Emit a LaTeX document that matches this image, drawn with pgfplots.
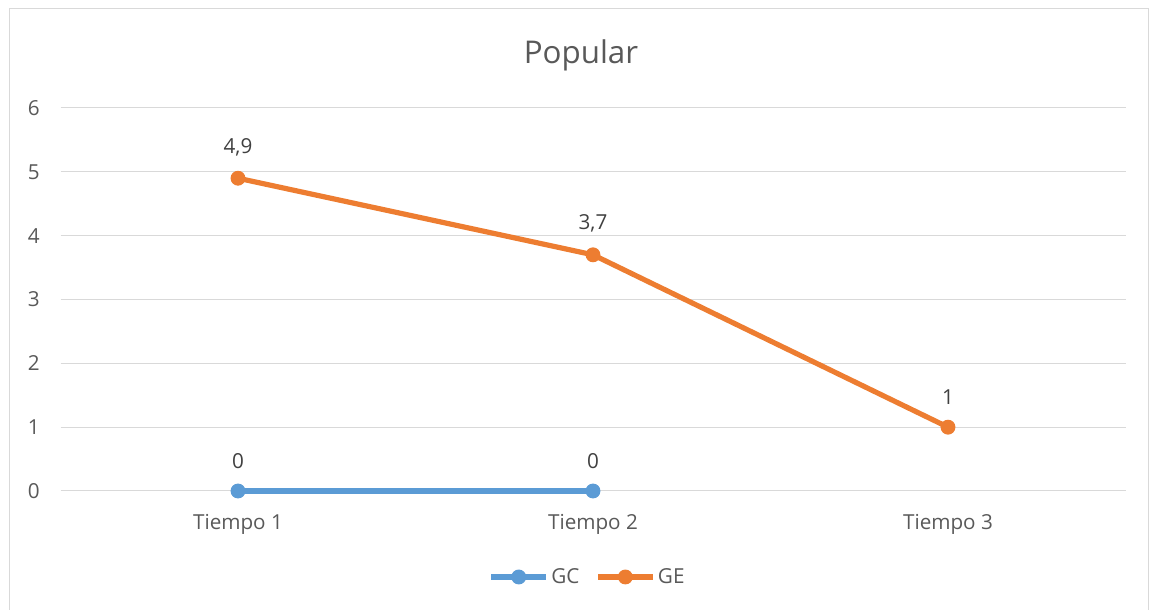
\documentclass[border=0pt]{standalone}
\usepackage{pgfplots}
\pgfplotsset{compat=1.18}
\usepackage{fontspec}
\setmainfont{Open Sans}
\definecolor{gc}{HTML}{5B9BD5}
\definecolor{ge}{HTML}{ED7D31}
\definecolor{gridc}{HTML}{D9D9D9}
\definecolor{tickc}{HTML}{595959}
\definecolor{lblc}{HTML}{404040}
\begin{document}
\begin{tikzpicture}[x=0.75pt,y=0.75pt]
\path[use as bounding box] (0,0) rectangle (1150,610);
\draw[gridc,line width=0.75pt] (9,-2) -- (9,601) -- (1148,601) -- (1148,-2);
\node[font=\fontsize{23.5}{28}\selectfont,text=tickc] at (581,555) {Popular};
\begin{axis}[
  at={(60.5*0.75pt,119*0.75pt)}, anchor=south west,
  scale only axis, width=798.75pt, height=287.25pt,
  xmin=-0.5, xmax=2.5, ymin=0, ymax=6,
  xtick={0,1,2}, xticklabels={Tiempo 1,Tiempo 2,Tiempo 3},
  ytick={0,1,2,3,4,5,6},
  axis line style={draw=none},
  major tick length=0pt,
  xmajorgrids=false, ymajorgrids=true,
  major grid style={draw=gridc,line width=0.75pt},
  tick label style={font=\fontsize{15.5}{18}\selectfont,text=tickc},
  /pgf/number format/assume math mode=true,
  xticklabel style={yshift=-14pt},
  yticklabel style={xshift=-12pt},
  clip=false,
  nodes near coords,
  every node near coord/.append style={font=\fontsize{15.5}{18}\selectfont,text=lblc,yshift=13pt},
  /pgf/number format/use comma,
  legend style={at={(0.4953,-0.2245)},anchor=center,draw=none,legend columns=2,
    font=\fontsize{15.5}{18}\selectfont,text=tickc,
    /tikz/every even column/.append style={column sep=10pt},
    inner sep=0pt},
  legend image code/.code={
    \draw[#1,mark repeat=2,mark phase=2] plot coordinates {(0pt,0pt) (20.5pt,0pt) (41pt,0pt)};
  },
]
\addplot[gc, line width=3.9pt, mark=*, mark size=5.2pt, mark options={solid,line width=0.75pt}] coordinates {(0,0) (1,0)};
\addlegendentry{GC}
\addplot[ge, line width=3.9pt, mark=*, mark size=5.2pt, mark options={solid,line width=0.75pt}] coordinates {(0,4.9) (1,3.7) (2,1)};
\addlegendentry{GE}
\end{axis}
\end{tikzpicture}
\end{document}
